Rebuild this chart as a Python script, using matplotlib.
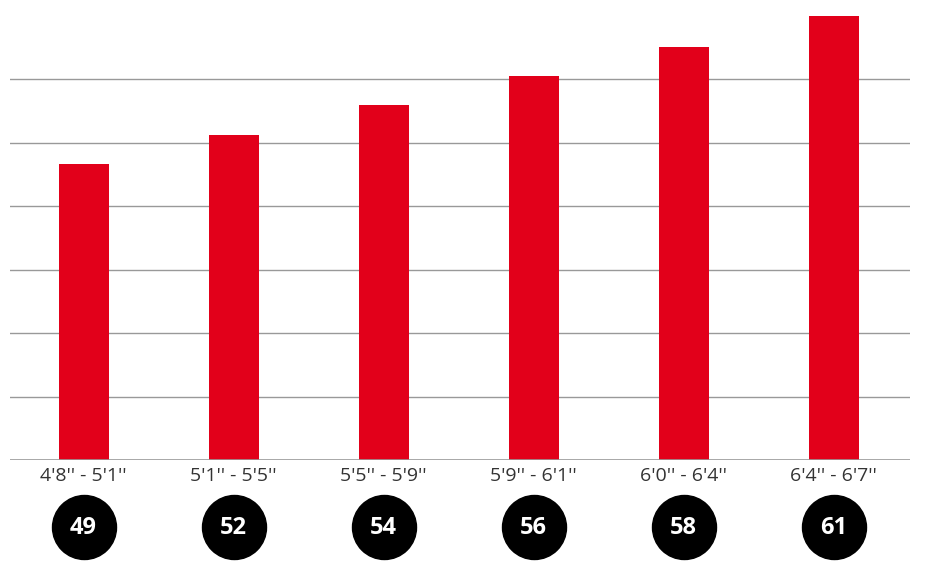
import matplotlib
matplotlib.use("Agg")
import matplotlib.pyplot as plt
from matplotlib.transforms import blended_transform_factory

categories = ["4'8'' - 5'1''", "5'1'' - 5'5''", "5'5'' - 5'9''", "5'9'' - 6'1''", "6'0'' - 6'4''", "6'4'' - 6'7''"]
values = [4.66, 5.12, 5.59, 6.04, 6.51, 6.99]
sizes = ["49", "52", "54", "56", "58", "61"]

plt.rcParams['font.family'] = ['Open Sans', 'DejaVu Sans']

W, H = 927, 567
fig = plt.figure(figsize=(W/100, H/100), dpi=100)
ax = fig.add_axes([10/W, (H-460)/H, 900/W, (460-15.5)/H])

x = list(range(len(categories)))
ax.bar(x, values, width=50/150, color='#e2001a', zorder=3)
ax.set_xlim(-0.49, len(categories)-0.49)
ax.set_ylim(0, 7)
for y in range(1, 7):
    ax.axhline(y, color='#999999', lw=1.0, zorder=1)
ax.axhline(0, color='#999999', lw=1.2, zorder=4)
for s in ax.spines.values():
    s.set_visible(False)
ax.set_xticks([])
ax.set_yticks([])

tr = blended_transform_factory(ax.transData, ax.transAxes)
ah = 460-15.5
for i, (c, s) in enumerate(zip(categories, sizes)):
    ax.text(i, -16/ah, c, transform=tr, ha='center', va='center', fontsize=14, color='#333333')
    ax.scatter([i], [-67/ah], s=2124, color='black', transform=tr, clip_on=False, zorder=5)
    ax.text(i, -68/ah, s, transform=tr, ha='center', va='center', fontsize=17, fontweight='bold', color='white', zorder=6)

fig.savefig("out.png", dpi=100)
